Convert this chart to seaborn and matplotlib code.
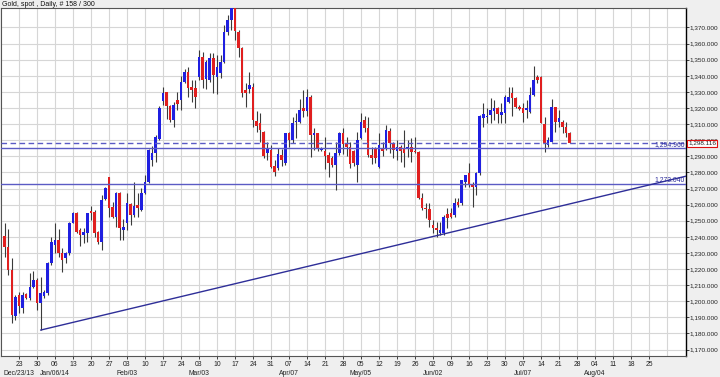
import numpy as np
import pandas as pd
import matplotlib
matplotlib.use("Agg")
import matplotlib.pyplot as plt
import matplotlib.transforms as mtransforms
from matplotlib.ticker import FuncFormatter
import seaborn as sns

# ---------------- data ----------------
title = "Gold, spot , Daily, # 158 / 300"
start_date = "2013-12-17"
end_date = "2014-07-24"
opens = [1240.5, 1234.0, 1219.4, 1190.8, 1204.0, 1195.6, 1204.3, 1201.8, 1209.0, 1213.2,
         1198.7, 1203.5, 1204.9, 1223.5, 1235.0, 1238.0, 1229.7, 1226.6, 1229.7, 1248.8,
         1254.6, 1244.2, 1241.1, 1242.6, 1256.2, 1255.6, 1243.2, 1237.0, 1263.3, 1276.9,
         1258.7, 1252.5, 1267.4, 1244.0, 1248.4, 1260.4, 1253.5, 1259.7, 1256.6, 1267.0,
         1274.2, 1287.7, 1291.8, 1300.5, 1324.3, 1329.7, 1321.2, 1312.5, 1324.9, 1324.9,
         1336.3, 1342.1, 1333.2, 1332.2, 1339.4, 1351.9, 1338.0, 1337.4, 1350.9, 1339.5,
         1341.5, 1348.8, 1367.0, 1374.7, 1382.0, 1367.4, 1357.1, 1331.0, 1331.6, 1333.3,
         1312.0, 1310.5, 1305.0, 1292.0, 1293.9, 1284.0, 1282.5, 1290.8, 1285.7, 1304.3,
         1300.1, 1311.0, 1311.5, 1320.0, 1318.0, 1327.0, 1303.2, 1304.3, 1294.0, 1293.0,
         1290.8, 1288.8, 1284.6, 1291.9, 1304.3, 1298.0, 1296.0, 1293.0, 1284.6, 1301.2,
         1312.6, 1307.4, 1291.0, 1295.0, 1283.6, 1295.0, 1294.9, 1306.0, 1298.0, 1293.5,
         1296.0, 1294.9, 1294.9, 1296.0, 1293.0, 1292.9, 1263.9, 1258.0, 1257.0, 1247.3,
         1245.3, 1242.1, 1242.1, 1254.0, 1254.6, 1253.5, 1261.8, 1260.8, 1274.2, 1279.4,
         1273.0, 1271.1, 1279.4, 1314.0, 1314.2, 1315.6, 1318.0, 1319.8, 1315.6, 1316.7,
         1323.9, 1329.0, 1326.0, 1320.8, 1320.0, 1318.7, 1317.7, 1328.0, 1339.4, 1339.4,
         1310.0, 1297.0, 1299.1, 1320.8, 1311.0, 1311.5, 1308.0, 1304.3]
highs = [1248.8, 1244.6, 1226.6, 1204.0, 1206.0, 1206.0, 1205.0, 1217.3, 1219.0, 1214.2,
         1214.8, 1207.0, 1224.5, 1240.0, 1248.8, 1244.6, 1232.8, 1230.8, 1249.4, 1255.6,
         1255.6, 1245.3, 1245.3, 1255.0, 1259.1, 1256.5, 1243.8, 1265.9, 1271.1, 1277.3,
         1261.8, 1268.0, 1268.0, 1251.0, 1267.0, 1260.8, 1274.2, 1267.0, 1270.1, 1278.4,
         1294.3, 1296.4, 1303.2, 1321.2, 1333.2, 1330.1, 1321.6, 1323.9, 1330.1, 1339.8,
         1344.0, 1345.6, 1337.4, 1337.4, 1356.0, 1355.0, 1350.0, 1354.4, 1354.0, 1353.0,
         1353.0, 1371.6, 1377.8, 1388.0, 1392.0, 1368.5, 1358.1, 1335.3, 1342.6, 1335.3,
         1318.0, 1316.7, 1306.0, 1299.0, 1297.0, 1288.0, 1295.0, 1294.5, 1304.3, 1305.3,
         1314.6, 1316.7, 1325.4, 1331.2, 1331.6, 1328.1, 1307.4, 1304.7, 1296.0, 1302.0,
         1292.9, 1290.0, 1299.1, 1305.3, 1307.4, 1302.0, 1299.0, 1294.0, 1305.3, 1316.7,
         1315.0, 1314.6, 1296.0, 1296.0, 1304.3, 1299.0, 1309.4, 1307.3, 1299.0, 1300.0,
         1297.0, 1306.3, 1300.0, 1301.1, 1302.2, 1293.0, 1267.4, 1260.8, 1260.8, 1250.4,
         1249.4, 1249.4, 1253.5, 1257.7, 1257.7, 1263.9, 1263.9, 1275.3, 1278.4, 1285.6,
         1274.0, 1280.4, 1315.6, 1322.9, 1319.8, 1326.0, 1324.9, 1320.8, 1322.9, 1328.0,
         1333.2, 1333.2, 1327.0, 1321.8, 1322.9, 1324.9, 1333.2, 1346.0, 1340.5, 1339.8,
         1314.6, 1302.2, 1325.4, 1320.8, 1318.7, 1312.5, 1311.5, 1305.3]
lows = [1227.6, 1216.3, 1186.7, 1188.3, 1192.5, 1192.5, 1201.5, 1200.7, 1208.0, 1194.5,
        1182.1, 1202.0, 1203.9, 1222.5, 1229.7, 1227.6, 1218.3, 1223.5, 1228.7, 1248.4,
        1242.1, 1234.3, 1235.9, 1237.0, 1250.4, 1240.1, 1235.5, 1231.8, 1262.8, 1252.5,
        1251.5, 1246.3, 1238.0, 1238.0, 1244.2, 1247.3, 1252.5, 1252.5, 1256.2, 1266.6,
        1273.6, 1283.9, 1286.6, 1300.1, 1321.8, 1312.9, 1311.5, 1308.0, 1318.7, 1318.7,
        1335.3, 1327.0, 1323.9, 1319.8, 1337.4, 1332.2, 1332.0, 1336.4, 1329.2, 1328.5,
        1338.4, 1347.8, 1365.4, 1368.5, 1362.0, 1351.9, 1327.1, 1320.8, 1329.1, 1308.4,
        1305.0, 1299.1, 1289.0, 1288.0, 1282.5, 1278.0, 1281.5, 1284.0, 1284.6, 1296.0,
        1298.1, 1301.2, 1310.9, 1314.6, 1315.0, 1289.8, 1294.0, 1293.5, 1293.5, 1282.0,
        1277.4, 1283.5, 1269.1, 1290.8, 1291.5, 1290.0, 1283.0, 1284.0, 1274.3, 1300.6,
        1305.0, 1289.8, 1285.0, 1285.7, 1282.5, 1290.0, 1293.9, 1292.0, 1288.7, 1287.7,
        1286.6, 1283.5, 1289.8, 1286.6, 1291.8, 1263.3, 1256.6, 1251.5, 1246.3, 1242.1,
        1240.1, 1241.1, 1241.1, 1245.3, 1251.5, 1252.5, 1258.7, 1259.7, 1271.1, 1271.1,
        1258.7, 1266.0, 1278.4, 1308.4, 1310.5, 1310.5, 1312.5, 1310.5, 1310.5, 1310.9,
        1322.9, 1315.0, 1319.8, 1318.7, 1311.5, 1313.6, 1316.7, 1327.4, 1335.3, 1310.5,
        1292.9, 1296.0, 1299.1, 1305.3, 1308.4, 1304.2, 1302.2, 1298.1]
closes = [1233.9, 1219.4, 1191.4, 1202.8, 1197.0, 1203.9, 1202.2, 1209.0, 1213.2, 1198.7,
          1204.9, 1205.5, 1223.9, 1237.0, 1238.0, 1229.7, 1225.6, 1229.7, 1248.8, 1255.0,
          1243.2, 1241.1, 1243.2, 1254.6, 1254.6, 1242.6, 1237.0, 1262.8, 1270.1, 1257.7,
          1252.5, 1267.0, 1245.3, 1246.0, 1260.8, 1253.5, 1259.3, 1257.7, 1267.0, 1274.2,
          1293.9, 1292.2, 1302.2, 1319.8, 1329.1, 1321.2, 1312.5, 1321.8, 1322.2, 1336.3,
          1342.1, 1332.2, 1331.1, 1327.0, 1351.9, 1337.4, 1348.8, 1350.9, 1340.5, 1345.7,
          1348.8, 1367.0, 1374.7, 1381.9, 1368.0, 1357.1, 1329.1, 1329.0, 1334.3, 1312.6,
          1309.0, 1306.4, 1290.0, 1295.0, 1283.6, 1280.0, 1291.5, 1287.7, 1304.3, 1300.1,
          1310.5, 1312.2, 1318.8, 1318.0, 1327.0, 1303.2, 1304.7, 1295.0, 1295.4, 1290.5,
          1285.7, 1284.6, 1291.9, 1304.3, 1297.7, 1296.0, 1285.0, 1285.7, 1300.1, 1311.5,
          1307.4, 1290.8, 1289.0, 1288.8, 1297.0, 1293.0, 1306.3, 1298.0, 1294.0, 1295.5,
          1293.0, 1291.8, 1296.0, 1292.9, 1292.5, 1263.9, 1257.7, 1257.0, 1250.4, 1245.3,
          1244.2, 1244.2, 1252.5, 1251.5, 1252.5, 1260.8, 1259.7, 1275.3, 1278.4, 1272.2,
          1271.0, 1279.4, 1315.0, 1316.0, 1315.0, 1318.7, 1320.0, 1316.2, 1317.7, 1327.0,
          1327.0, 1326.0, 1320.8, 1319.1, 1317.0, 1319.8, 1328.0, 1337.4, 1337.4, 1310.5,
          1298.0, 1300.1, 1320.8, 1311.5, 1313.5, 1308.0, 1304.7, 1298.116]

current_price = 1298.116
level_lines = [1294.960, 1273.040]
level_labels = ["1,294.960", "1,273.040"]
trend_start_date = "2013-12-31"
trend_start_value = 1182.1
trend_slope_per_day = 0.533

month_labels = ["Dec/23/13", "Jan/06/14", "Feb/03", "Mar/03", "Apr/07",
                "May/05", "Jun/02", "Jul/07", "Aug/04"]
month_label_dates = ["2013-12-23", "2014-01-06", "2014-02-03", "2014-03-03",
                     "2014-04-07", "2014-05-05", "2014-06-02", "2014-07-07", "2014-08-04"]
y_ticks = list(range(1170, 1371, 10))

# ---------------- setup ----------------
sns.set_theme(style="white")
plt.rcParams["font.family"] = ["Liberation Sans", "DejaVu Sans"]

origin = np.datetime64("2013-12-16")
dates = pd.bdate_range(start_date, end_date)
pos = np.busday_count(origin, dates.values.astype("datetime64[D]"))

df = pd.DataFrame({"pos": pos, "open": opens, "high": highs, "low": lows, "close": closes})
df["up"] = df["close"] >= df["open"]
df["bottom"] = df[["open", "close"]].min(axis=1)
df["height"] = (df["close"] - df["open"]).abs().clip(lower=0.7)

fig = plt.figure(figsize=(7.2, 3.77), dpi=100, facecolor="#efefef")
ax = fig.add_axes([1 / 720, 1 - 355.7 / 377, 685 / 720, (355.7 - 8.3) / 377])
ax.set_facecolor("white")

xmax = 190.3
ax.set_xlim(0, xmax)
ax.set_ylim(1166.2, 1381.9)

# weekly grid
mondays = np.arange(5, 190, 5)
for m in mondays:
    ax.axvline(m, color="#d6d6d6", lw=0.8, zorder=0)
for yv in y_ticks:
    ax.axhline(yv, color="#d6d6d6", lw=0.8, zorder=0)

# candles
ax.vlines(df["pos"], df["low"], df["high"], color="#3a3a3a", lw=0.8, zorder=2)
colors = np.where(df["up"], "#1f1fe0", "#e01f1f")
ax.bar(df["pos"], df["height"], bottom=df["bottom"], width=0.72,
       color=colors, linewidth=0, zorder=3)

# level lines
line_col = "#5b5bc4"
ax.axhline(current_price, color=line_col, lw=1.0, ls=(0, (4, 2.5)), zorder=4)
for lv, lab in zip(level_lines, level_labels):
    ax.axhline(lv, color=line_col, lw=1.0, zorder=4)
    ax.text(xmax - 0.3, lv + 0.2, lab, ha="right", va="bottom", fontsize=4.9,
            color="#2b2b9a", zorder=6)

# trendline
t0 = np.busday_count(origin, np.datetime64(trend_start_date))
tx = [t0, xmax]
ty = [trend_start_value, trend_start_value + (xmax - t0) * trend_slope_per_day]
sns.lineplot(x=tx, y=ty, ax=ax, color="#2e2e98", lw=1.0, zorder=4)

# axes styling
for s in ["top", "bottom", "left"]:
    ax.spines[s].set_color("#555555")
    ax.spines[s].set_linewidth(0.8)
ax.spines["right"].set_color("#000000")
ax.spines["right"].set_linewidth(1.0)

ax.yaxis.tick_right()
ax.set_yticks(y_ticks)
ax.yaxis.set_major_formatter(FuncFormatter(lambda v, p: f"{v:,.3f}"))
ax.tick_params(axis="y", which="major", length=2, width=0.6, pad=0.6,
               labelsize=4.6, colors="#222222", right=True, left=False)

tick_pos = np.arange(5, 181, 5)
tick_dates = pd.Timestamp("2013-12-16") + pd.to_timedelta(tick_pos // 5 * 7, unit="D")
ax.set_xticks(tick_pos)
ax.set_xticklabels([f"{d.day:02d}" for d in tick_dates])
ax.tick_params(axis="x", which="major", length=2, width=0.6, pad=1.5,
               labelsize=4.9, colors="#222222", bottom=True)

trans = mtransforms.blended_transform_factory(ax.transData, ax.transAxes)
for lab, d in zip(month_labels, month_label_dates):
    p = np.busday_count(origin, np.datetime64(d))
    ax.text(p, -0.051, lab, transform=trans, ha="center", va="center",
            fontsize=4.9, color="#222222", clip_on=False)

# current price box
trans_y = mtransforms.blended_transform_factory(ax.transAxes, ax.transData)
ax.text(1.003, current_price, f"{current_price:,.3f}", transform=trans_y,
        ha="left", va="center", fontsize=4.6, color="#222222", zorder=10,
        clip_on=False,
        bbox=dict(boxstyle="square,pad=0.18", fc="white", ec="#dd1111", lw=0.8))

fig.text(2 / 720, 1 - 4.5 / 377, title, ha="left", va="center",
         fontsize=5.0, color="#111111")

fig.savefig("out.png", dpi=100, facecolor=fig.get_facecolor())
